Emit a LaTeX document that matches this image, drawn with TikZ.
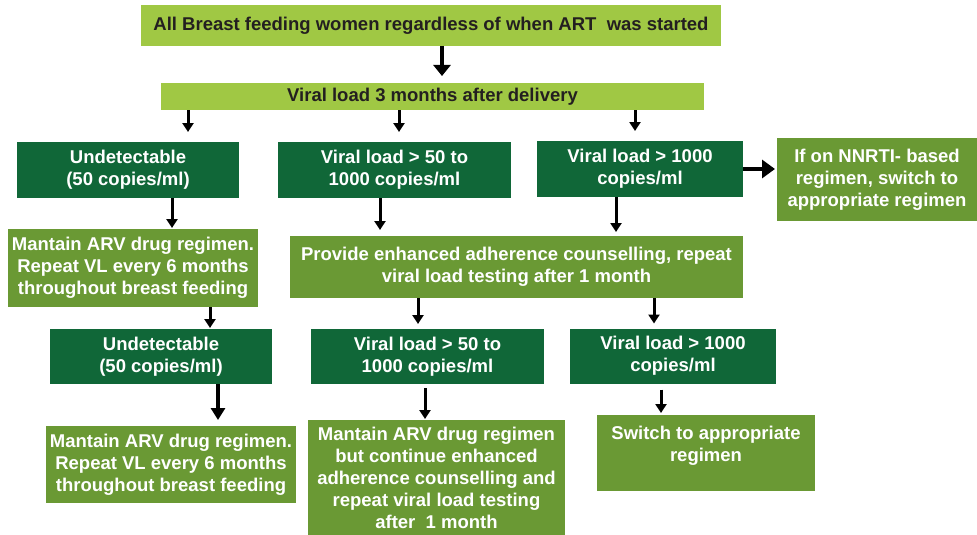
\documentclass[tikz,border=0pt]{standalone}
\usepackage{fontspec}
\setmainfont{Liberation Sans}
\usetikzlibrary{arrows.meta}
\definecolor{lightg}{RGB}{160,200,68}
\definecolor{darkg}{RGB}{16,103,56}
\definecolor{oliveg}{RGB}{106,153,52}
\definecolor{ink}{RGB}{35,31,32}
\begin{document}
\begin{tikzpicture}[x=1pt, y=-1pt,
  base/.style={rectangle, inner sep=0pt, outer sep=0pt, align=center,
    font=\fontsize{18.5}{22}\selectfont\bfseries},
  lightbox/.style={base, fill=lightg, text=ink},
  darkbox/.style={base, fill=darkg, text=white},
  olivebox/.style={base, fill=oliveg, text=white},
  arr/.style={line width=3pt, -{Triangle[width=11pt,length=9pt]}},
  bigarr/.style={line width=4pt, -{Triangle[width=17pt,length=11pt]}},
]
\useasboundingbox (0,0) rectangle (977,535);

% header boxes
\node[lightbox, minimum width=580pt, minimum height=41pt] (top) at (431,25.5)
  {All Breast feeding women regardless of when ART~ was started};
\node[lightbox, minimum width=543pt, minimum height=27pt] (vl) at (432.5,96.5)
  {Viral load 3 months after delivery};

% first viral load results
\node[darkbox, minimum width=222pt, minimum height=56pt] (A) at (128,170)
  {Undetectable\\(50 copies/ml)};
\node[darkbox, minimum width=233pt, minimum height=56pt] (B) at (394.5,170)
  {Viral load > 50 to\\1000 copies/ml};
\node[darkbox, minimum width=206pt, minimum height=56pt] (C) at (640,169)
  {Viral load > 1000\\copies/ml};
\node[olivebox, minimum width=200pt, minimum height=83pt] (D) at (877,179.5)
  {If on NNRTI- based\\regimen, switch to\\appropriate regimen};

% actions
\node[olivebox, minimum width=250pt, minimum height=78pt] (E) at (133,268)
  {Mantain ARV drug regimen.\\Repeat VL every 6 months\\throughout breast feeding};
\node[olivebox, minimum width=453pt, minimum height=62pt] (F) at (516.5,267)
  {Provide enhanced adherence counselling, repeat\\viral load testing after 1 month};

% repeat viral load results
\node[darkbox, minimum width=222pt, minimum height=55pt] (G) at (161,356.5)
  {Undetectable\\(50 copies/ml)};
\node[darkbox, minimum width=233pt, minimum height=55pt] (H) at (427.5,356.5)
  {Viral load > 50 to\\1000 copies/ml};
\node[darkbox, minimum width=206pt, minimum height=55pt] (I) at (673,356)
  {Viral load > 1000\\copies/ml};

% final actions
\node[olivebox, minimum width=250pt, minimum height=77pt] (J) at (171,464.5)
  {Mantain ARV drug regimen.\\Repeat VL every 6 months\\throughout breast feeding};
\node[olivebox, minimum width=257pt, minimum height=115pt] (K) at (436.5,477.5)
  {Mantain ARV drug regimen\\but continue enhanced\\adherence counselling and\\repeat viral load testing\\after~ 1 month};
\node[olivebox, minimum width=218pt, minimum height=76pt] (L) at (706,453) {};
\node[base, text=white] (Ltxt) at (706,446) {Switch to appropriate\\regimen};

% connectors
\draw[bigarr, shorten >=7pt] (top.south -| 442,0) -- (vl.north -| 442,0);
\draw[arr, shorten >=10pt] (vl.south -| 188,0) -- (A.north -| 188,0);
\draw[arr, shorten >=10pt] (vl.south -| 399,0) -- (B.north -| 399,0);
\draw[arr, shorten >=10pt] (vl.south -| 635,0) -- (C.north -| 635,0);
\draw[arr, shorten >=1pt] (A.south -| 172,0) -- (E.north -| 172,0);
\draw[arr, shorten >=6pt] (B.south -| 380,0) -- (F.north -| 380,0);
\draw[arr, shorten >=4pt] (C.south -| 616,0) -- (F.north -| 616,0);
\draw[line width=4pt, -{Triangle[width=18pt,length=13pt]}, shorten >=2pt]
  (C.east) -- (D.west |- C.east);
\draw[arr, shorten >=1pt] (E.south -| 210,0) -- (G.north -| 210,0);
\draw[arr, shorten >=5pt] (F.south -| 418,0) -- (H.north -| 418,0);
\draw[arr, shorten >=5pt] (F.south -| 654,0) -- (I.north -| 654,0);
\draw[line width=4pt, -{Triangle[width=14pt,length=12pt]}, shorten >=6pt]
  (G.south -| 218,0) -- (J.north -| 218,0);
\draw[arr, shorten <=4pt, shorten >=1pt] (H.south -| 425,0) -- (K.north -| 425,0);
\draw[arr, shorten <=6pt, shorten >=2pt] (I.south -| 661,0) -- (L.north -| 661,0);
\end{tikzpicture}
\end{document}
